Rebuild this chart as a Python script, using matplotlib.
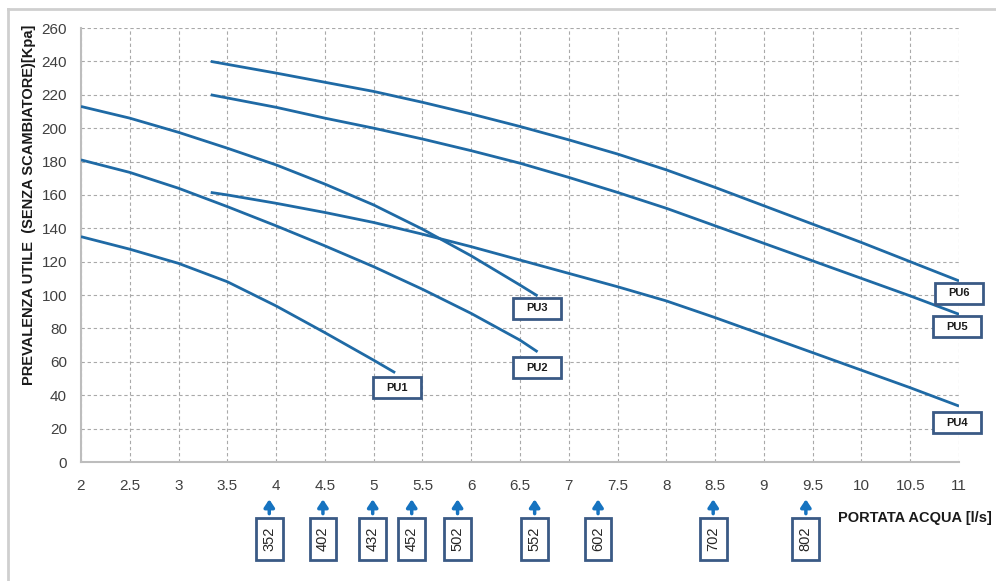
import matplotlib
matplotlib.use("Agg")
import matplotlib.pyplot as plt
import numpy as np
from matplotlib.lines import Line2D
from matplotlib.patches import Rectangle

# pump curves: flow [l/s] -> available head [kPa]
pu1_x = [2.0, 2.5, 3.0, 3.5, 4.0, 4.5, 5.0, 5.22]
pu1_y = [135, 127.5, 119, 108, 93.5, 77.5, 61, 53.5]
pu2_x = [2.0, 2.5, 3.0, 3.5, 4.0, 4.5, 5.0, 5.5, 6.0, 6.5, 6.68]
pu2_y = [181, 173.5, 164, 153, 141.5, 129.5, 117, 103.5, 89, 73, 66]
pu3_x = [2.0, 2.5, 3.0, 3.5, 4.0, 4.5, 5.0, 5.5, 6.0, 6.5, 6.68]
pu3_y = [213, 206, 197.5, 188, 178, 166.5, 154, 139.5, 123.5, 106, 99.5]
pu4_x = [3.33, 3.5, 4.0, 4.5, 5.0, 5.5, 6.0, 6.5, 7.0, 7.5, 8.0, 8.5, 9.0, 9.5, 10.0, 10.5, 11.0]
pu4_y = [161.5, 160, 155, 149.5, 143.5, 136.5, 129, 121, 113, 105, 96.5, 86.5, 76, 65.5, 55, 44.5, 33.5]
pu5_x = [3.33, 4.0, 4.5, 5.0, 5.5, 6.0, 6.5, 7.0, 7.5, 8.0, 8.5, 9.0, 9.5, 10.0, 10.5, 11.0]
pu5_y = [220, 212.5, 206, 200, 193.5, 186.5, 179, 170.5, 161.5, 152, 141.5, 131, 120.5, 110, 99.5, 88.5]
pu6_x = [3.33, 4.0, 4.5, 5.0, 5.5, 6.0, 6.5, 7.0, 7.5, 8.0, 8.5, 9.0, 9.5, 10.0, 10.5, 11.0]
pu6_y = [240, 233, 227.5, 222, 215.5, 208.5, 201, 193, 184.5, 175, 164.5, 153.5, 142.5, 131.5, 120, 108.5]

curve_names = ["PU1", "PU2", "PU3", "PU4", "PU5", "PU6"]
label_x = [5.24, 6.67, 6.67, 10.98, 10.98, 11.0]
label_y = [44.5, 56.5, 92, 23.4, 81, 101]

# model markers under the flow axis
model_names = ["352", "402", "432", "452", "502", "552", "602", "702", "802"]
model_flow = [3.93, 4.48, 4.99, 5.39, 5.86, 6.65, 7.30, 8.48, 9.43]

line_color = "#1f6aa5"
box_color = "#3a5a85"

plt.rcParams["font.family"] = ["Liberation Sans", "DejaVu Sans"]

fig = plt.figure(figsize=(9.96, 5.81), dpi=100)
ax = fig.add_axes([0.0813, 0.2048, 0.8816, 0.747])

curves = [(pu1_x, pu1_y), (pu2_x, pu2_y), (pu3_x, pu3_y), (pu4_x, pu4_y), (pu5_x, pu5_y), (pu6_x, pu6_y)]
for xs, ys in curves:
    ax.plot(xs, ys, color=line_color, lw=2.0, solid_capstyle="butt", solid_joinstyle="round", zorder=3)

# boxed curve names: about 48 x 21 px
bw, bh = 0.49, 12.6
for name, lx, ly in zip(curve_names, label_x, label_y):
    ax.add_patch(Rectangle((lx - bw / 2, ly - bh / 2), bw, bh, fc="white", ec=box_color, lw=2.0, zorder=4, clip_on=False))
    ax.text(lx, ly, name, ha="center", va="center", fontsize=8, fontweight="bold", color="#1a1a1a", zorder=5, clip_on=False)

ax.set_xlim(2, 11)
ax.set_ylim(0, 260)
ax.set_xticks(np.arange(2, 11.01, 0.5))
ax.set_xticklabels([f"{v:g}" for v in np.arange(2, 11.01, 0.5)])
ax.set_yticks(np.arange(0, 261, 20))
ax.tick_params(axis="both", length=0, labelsize=11, labelcolor="#404040")
ax.tick_params(axis="x", pad=12)
ax.tick_params(axis="y", pad=10)
ax.grid(True, color="#a9a9a9", ls=(0, (3, 2.5)), lw=0.8, zorder=0)
for s in ["top", "right"]:
    ax.spines[s].set_visible(False)
for s in ["left", "bottom"]:
    ax.spines[s].set_color("#bdbdbd")
    ax.spines[s].set_linewidth(1.5)

fig.text(0.029, 0.647, "PREVALENZA UTILE  (SENZA SCAMBIATORE)[Kpa]", rotation=90, ha="center", va="center",
         fontsize=10.5, fontweight="bold", color="#1a1a1a")

# arrows and boxed model codes below the axis
tr = ax.get_xaxis_transform()
mw, mh, mtop = 0.275, 0.097, -0.1294
for name, fx in zip(model_names, model_flow):
    ax.annotate("", xy=(fx, -0.086), xytext=(fx, -0.119), xycoords=tr, textcoords=tr,
                arrowprops=dict(arrowstyle="-|>,head_width=0.3,head_length=0.45", color="#1673c0", lw=2.5,
                                shrinkA=0, shrinkB=0, mutation_scale=10),
                annotation_clip=False)
    ax.add_patch(Rectangle((fx - mw / 2, mtop - mh), mw, mh, transform=tr, fc="white", ec=box_color, lw=2.0, clip_on=False))
    ax.text(fx, mtop - mh / 2, name, transform=tr, rotation=90, ha="center", va="center",
            fontsize=10.5, color="#262626", clip_on=False)

fig.text(0.841, 0.109, "PORTATA ACQUA [l/s]", fontsize=10.5, fontweight="bold", color="#1a1a1a", va="center")

# outer frame (top and left edges only)
fig.add_artist(Line2D([0.008, 1.0], [0.984, 0.984], color="#cfcfcf", lw=2))
fig.add_artist(Line2D([0.008, 0.008], [0.0, 0.984], color="#cfcfcf", lw=2))

fig.savefig("out.png", dpi=100)
